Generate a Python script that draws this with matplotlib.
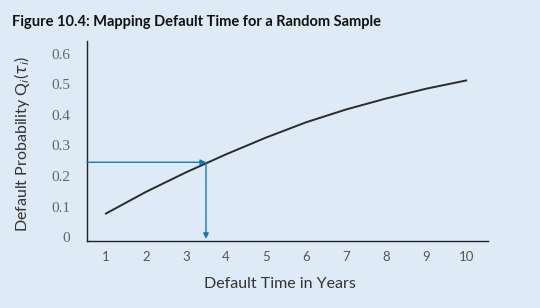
import numpy as np
import matplotlib
matplotlib.use("Agg")
import matplotlib.pyplot as plt

# curve: default probability at each year
years = [1, 2, 3, 4, 5, 6, 7, 8, 9, 10]
default_prob = [0.077, 0.148, 0.212, 0.271, 0.326, 0.376, 0.418, 0.454, 0.486, 0.513]

# the random sample mapped back to a default time
sample_time = 3.5
sample_prob = 0.245

y_ticks = [0, 0.1, 0.2, 0.3, 0.4, 0.5, 0.6]
y_tick_labels = ["0", "0.1", "0.2", "0.3", "0.4", "0.5", "0.6"]

bg = "#deeaf6"
blue = "#1677b8"

fig = plt.figure(figsize=(5.4, 3.08), dpi=100, facecolor=bg)
ax = fig.add_axes([0.161, 0.2175, 0.743, 0.65], facecolor=bg)

ax.plot(years, default_prob, color="#2b2b2b", lw=1.4, solid_joinstyle="round")

xlo, xhi = 0.525, 10.55
ylo, yhi = -0.013, 0.643
ax.set_xlim(xlo, xhi)
ax.set_ylim(ylo, yhi)

arrow = dict(arrowstyle="-|>", color=blue, lw=1.0, mutation_scale=8,
             shrinkA=0, shrinkB=0)
ax.annotate("", xy=(sample_time, sample_prob), xytext=(xlo, sample_prob),
            arrowprops=arrow)
ax.annotate("", xy=(sample_time, -0.006), xytext=(sample_time, sample_prob),
            arrowprops=arrow)

for side in ["top", "right"]:
    ax.spines[side].set_visible(False)
for side in ["left", "bottom"]:
    ax.spines[side].set_color("#222222")
    ax.spines[side].set_linewidth(1.0)

ax.set_xticks(years)
ax.set_xticklabels([str(y) for y in years], family="Lato", fontsize=9.5,
                   color="#555555")
ax.set_yticks(y_ticks)
ax.set_yticklabels(y_tick_labels, family="Liberation Serif", fontsize=11,
                   color="#666666")
ax.tick_params(axis="x", length=0, pad=7)
ax.tick_params(axis="y", length=0, pad=12)

ax.set_xlabel("Default Time in Years", family="Lato", fontsize=11.5,
              color="#333333", va="center")
ax.xaxis.set_label_coords(0.481, -0.215)
fig.text(0.041, 0.532, r"Default Probability Q$_i$($\tau_i$)", family="Lato",
         fontsize=11.5, color="#333333", rotation=90, ha="center", va="center")

fig.text(0.022, 0.93, "Figure 10.4: Mapping Default Time for a Random Sample",
         family="Lato", fontweight="bold", fontsize=10.5, color="#111111",
         ha="left", va="center")

plt.savefig("out.png", dpi=100, facecolor=bg)
